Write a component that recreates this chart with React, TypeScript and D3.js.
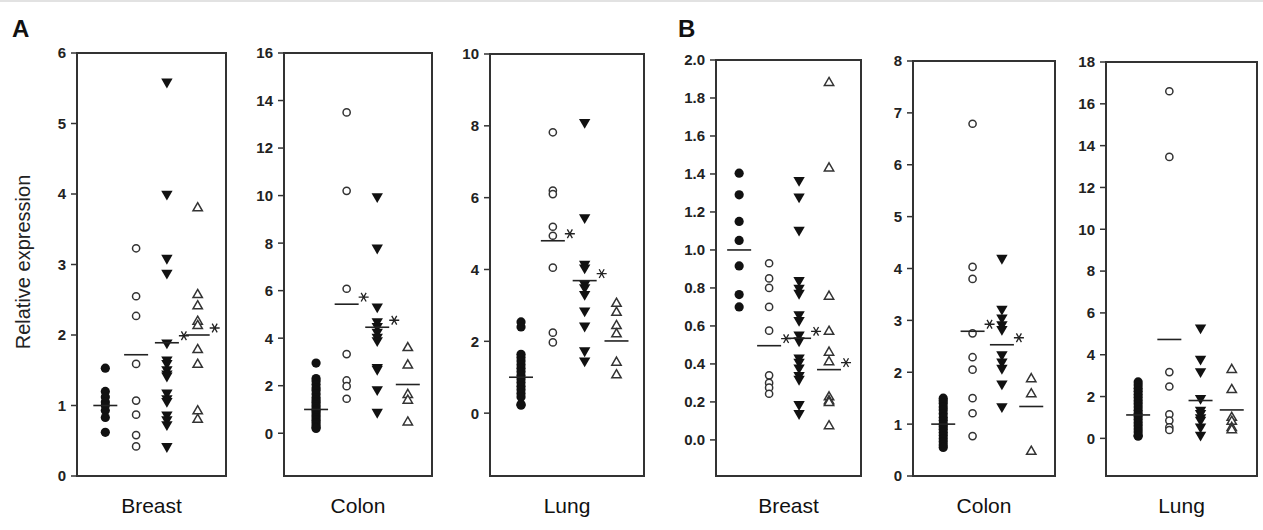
import * as d3 from 'd3';

// categories
const tissues = ['Breast', 'Colon', 'Lung', 'Breast', 'Colon', 'Lung'];
const panelLetters = ['A', 'B'];
const groups = ['control', 'open', 'down', 'up'];

// A: values per group (filled circle, open circle, filled triangle, open triangle)
const aBreast = [
  [1.53, 1.2, 1.12, 1.05, 1.0, 0.93, 0.83, 0.62],
  [3.23, 2.55, 2.27, 1.59, 1.07, 0.87, 0.58, 0.42],
  [5.59, 4.0, 3.09, 2.88, 1.89, 1.65, 1.6, 1.51, 1.45, 1.42, 1.18, 1.1, 1.06, 0.87, 0.8, 0.73, 0.42],
  [3.8, 2.57, 2.41, 2.19, 2.13, 1.79, 1.58, 0.92, 0.8],
];
const aColon = [
  [2.95, 2.3, 2.2, 2.05, 1.9, 1.8, 1.65, 1.5, 1.4, 1.3, 1.2, 1.1, 1.0, 0.95, 0.85, 0.75, 0.65, 0.55, 0.45, 0.35, 0.25, 0.2],
  [13.5, 10.2, 6.08, 3.33, 2.22, 1.98, 1.45],
  [9.96, 7.8, 5.32, 4.7, 4.5, 4.26, 4.05, 3.9, 2.78, 2.7, 1.84, 0.89],
  [3.59, 2.86, 1.62, 1.38, 0.46],
];
const aLung = [
  [2.54, 2.4, 1.64, 1.55, 1.45, 1.35, 1.25, 1.15, 1.05, 0.95, 0.85, 0.75, 0.65, 0.55, 0.45, 0.25, 0.22],
  [7.82, 6.2, 6.1, 5.19, 4.94, 4.05, 2.24, 1.97],
  [8.1, 5.45, 4.15, 4.05, 3.6, 3.5, 3.31, 2.85, 2.43, 1.74, 1.46],
  [3.05, 2.8, 2.43, 2.2, 1.41, 1.06],
];
// B
const bBreast = [
  [1.404, 1.29, 1.15, 1.05, 0.916, 0.765, 0.7],
  [0.93, 0.85, 0.8, 0.7, 0.575, 0.34, 0.3, 0.275, 0.243],
  [1.367, 1.28, 1.105, 0.84, 0.8, 0.773, 0.66, 0.63, 0.554, 0.523, 0.432, 0.41, 0.38, 0.34, 0.32, 0.187, 0.14],
  [1.88, 1.43, 0.755, 0.57, 0.46, 0.41, 0.225, 0.205, 0.196, 0.073],
];
const bColon = [
  [1.5, 1.45, 1.4, 1.33, 1.27, 1.2, 1.13, 1.07, 1.0, 0.95, 0.9, 0.84, 0.78, 0.72, 0.66, 0.6, 0.55],
  [6.79, 4.03, 3.8, 2.75, 2.29, 2.05, 1.5, 1.21, 0.77],
  [4.2, 3.22, 3.05, 2.92, 2.83, 2.34, 2.2, 2.08, 1.78, 1.34],
  [1.87, 1.58, 0.47],
];
const bLung = [
  [2.7, 2.55, 2.4, 2.25, 2.1, 1.95, 1.8, 1.65, 1.5, 1.35, 1.2, 1.05, 0.9, 0.75, 0.6, 0.45, 0.3, 0.15, 0.1],
  [16.6, 13.46, 3.17, 2.48, 1.15, 0.85, 0.53, 0.4],
  [5.29, 3.8, 3.2, 1.92, 1.36, 1.2, 1.0, 0.88, 0.55, 0.16],
  [3.28, 2.32, 0.99, 0.8, 0.51, 0.4],
];
const panelValues = [aBreast, aColon, aLung, bBreast, bColon, bLung];

// group means (horizontal bars) and significance marks
const means = [
  [1.0, 1.72, 1.89, 2.0],
  [1.0, 5.43, 4.46, 2.05],
  [1.0, 4.8, 3.69, 2.01],
  [1.0, 0.496, 0.535, 0.37],
  [1.0, 2.79, 2.53, 1.34],
  [1.12, 4.73, 1.81, 1.36],
];
const stars = [
  [false, false, true, true],
  [false, true, true, false],
  [false, true, true, false],
  [false, true, true, true],
  [false, true, true, false],
  [false, false, false, false],
];

// y domains and tick labels
const domains: [number, number][] = [[0, 6], [-1.8, 16], [-1.75, 10], [-0.19, 2.0], [0, 8], [-1.8, 18]];
const ticks = [
  [0, 1, 2, 3, 4, 5, 6],
  [0, 2, 4, 6, 8, 10, 12, 14, 16],
  [0, 2, 4, 6, 8, 10],
  [0, 0.2, 0.4, 0.6, 0.8, 1.0, 1.2, 1.4, 1.6, 1.8, 2.0],
  [0, 1, 2, 3, 4, 5, 6, 7, 8],
  [0, 2, 4, 6, 8, 10, 12, 14, 16, 18],
];
const tickFormats = ['d', 'd', 'd', '.1f', 'd', 'd'];

// layout
const W = 1263;
const H = 530;
const frames = [
  { x0: 77, x1: 226, y0: 53, y1: 476, align: 0.5 },
  { x0: 284, x1: 432, y0: 53, y1: 476, align: 0.57 },
  { x0: 490, x1: 644, y0: 54, y1: 476, align: 0.53 },
  { x0: 716, x1: 861, y0: 60, y1: 476, align: 0.42 },
  { x0: 913, x1: 1055, y0: 61, y1: 476, align: 0.56 },
  { x0: 1106, x1: 1257, y0: 62, y1: 476, align: 0.56 },
];
const FONT = '"Liberation Sans", Arial, sans-serif';
const INK = '#111';

const triDown = d3.symbol(d3.symbolTriangle, 56)();
const triUp = d3.symbol(d3.symbolTriangle, 38)();
const asterisk = d3.symbol(d3.symbolAsterisk, 70)();

function Marker({ g, x, y }: { g: number; x: number; y: number }) {
  if (g === 0) return <circle cx={x} cy={y} r={4.6} fill={INK} />;
  if (g === 1) return <circle cx={x} cy={y} r={3.6} fill="#fff" stroke="#333" strokeWidth={1.5} />;
  if (g === 2) return <path d={triDown ?? ''} transform={`translate(${x},${y}) rotate(180)`} fill={INK} />;
  return <path d={triUp ?? ''} transform={`translate(${x},${y})`} fill="#fff" stroke="#333" strokeWidth={1.5} />;
}

function Panel({ i }: { i: number }) {
  const f = frames[i];
  const y = d3.scaleLinear().domain(domains[i]).range([f.y1, f.y0]);
  const x = d3.scalePoint<string>().domain(groups).range([f.x0, f.x1]).padding(0.92).align(f.align);
  const fmt = d3.format(tickFormats[i]);
  const vals = panelValues[i];
  return (
    <g>
      <rect x={f.x0} y={f.y0} width={f.x1 - f.x0} height={f.y1 - f.y0} fill="none" stroke="#333" strokeWidth={2} />
      {ticks[i].map((t) => (
        <g key={t}>
          <line x1={f.x0 - 6} x2={f.x0} y1={y(t)} y2={y(t)} stroke="#333" strokeWidth={1.5} />
          <text x={f.x0 - 11} y={y(t)} dy="0.36em" textAnchor="end" fontFamily={FONT} fontWeight="bold" fontSize={15} fill="#222">
            {fmt(t)}
          </text>
        </g>
      ))}
      {vals.map((arr, g) =>
        arr.map((v, k) => <Marker key={`${g}-${k}`} g={g} x={x(groups[g]) ?? 0} y={y(v)} />)
      )}
      {means[i].map((m, g) => {
        const cx = x(groups[g]) ?? 0;
        return (
          <g key={`m${g}`}>
            <line x1={cx - 12} x2={cx + 12} y1={y(m)} y2={y(m)} stroke="#222" strokeWidth={1.6} />
            {stars[i][g] && (
              <path d={asterisk ?? ''} transform={`translate(${cx + 17},${y(m) - 7}) rotate(90)`} fill="none" stroke="#222" strokeWidth={1.3} />
            )}
          </g>
        );
      })}
      <text x={(f.x0 + f.x1) / 2} y={513} textAnchor="middle" fontFamily={FONT} fontSize={21} fill="#111">
        {tissues[i]}
      </text>
    </g>
  );
}

export default function App() {
  return (
    <svg width={W} height={H} style={{ position: 'absolute', left: 0, top: 0, background: '#fff' }}>
      <rect x={0} y={0} width={W} height={H} fill="#fff" />
      <rect x={0} y={0} width={W} height={2} fill="#e2e2e2" />
      <text x={12} y={37} fontFamily={FONT} fontWeight="bold" fontSize={24} fill="#111">{panelLetters[0]}</text>
      <text x={678} y={37} fontFamily={FONT} fontWeight="bold" fontSize={24} fill="#111">{panelLetters[1]}</text>
      <text transform="translate(30,262) rotate(-90)" textAnchor="middle" fontFamily={FONT} fontSize={20} fill="#222">
        Relative expression
      </text>
      {frames.map((_, i) => (
        <Panel key={i} i={i} />
      ))}
    </svg>
  );
}
